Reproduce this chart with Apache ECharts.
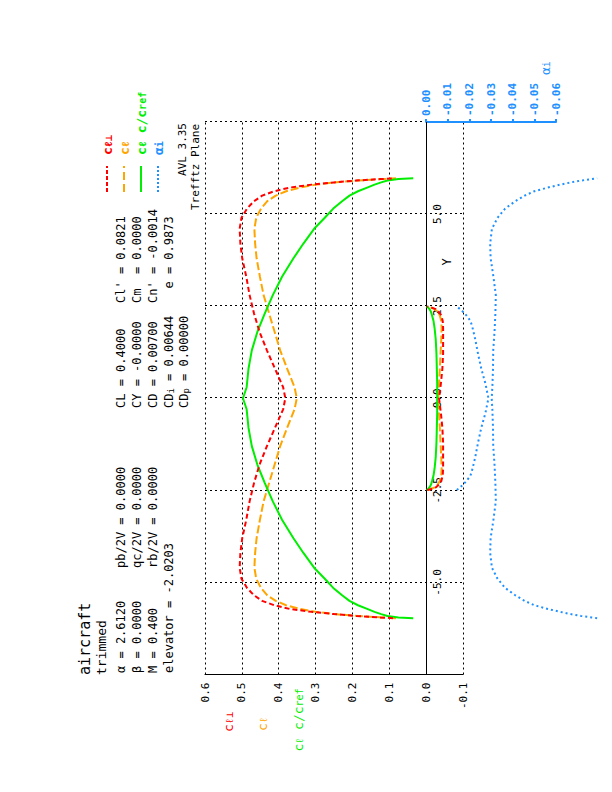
<!DOCTYPE html>
<html><head><meta charset="utf-8">
<script src="https://cdn.jsdelivr.net/npm/echarts@6/dist/echarts.min.js"></script>
<style>
html,body{margin:0;padding:0;width:612px;height:792px;overflow:hidden;background:#fff}
#wrap{position:absolute;left:-90px;top:90px;width:792px;height:612px;transform:rotate(-90deg);transform-origin:396px 306px;}
</style></head><body><div id="wrap"></div>
<script>
// ---- data ----
const wingY = [-5.97,-5.95,-5.91,-5.86,-5.8,-5.72,-5.62,-5.5,-5.35,-5.15,-4.9,-4.6,-4.2,-3.8,-3.3,-2.8,-2.3,-1.8,-1.3,-0.8,-0.3,0,0.3,0.8,1.3,1.8,2.3,2.8,3.3,3.8,4.2,4.6,4.9,5.15,5.35,5.5,5.62,5.72,5.8,5.86,5.91,5.95,5.97];
const wingClPerp = [0.09,0.125,0.19,0.25,0.31,0.37,0.412,0.445,0.467,0.486,0.501,0.506,0.504,0.499,0.488,0.479,0.467,0.452,0.432,0.410,0.388,0.382,0.388,0.410,0.432,0.452,0.467,0.479,0.488,0.499,0.504,0.506,0.501,0.486,0.467,0.445,0.412,0.37,0.31,0.25,0.19,0.125,0.09];
const wingCl = [0.082,0.12,0.185,0.25,0.298,0.342,0.38,0.408,0.431,0.448,0.461,0.466,0.464,0.460,0.451,0.441,0.426,0.411,0.396,0.377,0.357,0.351,0.357,0.377,0.396,0.411,0.426,0.441,0.451,0.460,0.464,0.466,0.461,0.448,0.431,0.408,0.38,0.342,0.298,0.25,0.185,0.12,0.082];
const wingClc = [0.035,0.075,0.105,0.122,0.14,0.16,0.185,0.208,0.228,0.252,0.275,0.304,0.333,0.36,0.391,0.416,0.438,0.458,0.473,0.482,0.487,0.497,0.487,0.482,0.473,0.458,0.438,0.416,0.391,0.36,0.333,0.304,0.275,0.252,0.228,0.208,0.185,0.16,0.14,0.122,0.105,0.075,0.035];
const wingAi = [-0.079,-0.0765,-0.0715,-0.0668,-0.062,-0.0562,-0.05,-0.0455,-0.0412,-0.0365,-0.033,-0.0304,-0.0296,-0.0298,-0.0311,-0.0322,-0.032,-0.0316,-0.031,-0.0309,-0.0306,-0.0303,-0.0306,-0.0309,-0.031,-0.0316,-0.032,-0.0322,-0.0311,-0.0298,-0.0296,-0.0304,-0.033,-0.0365,-0.0412,-0.0455,-0.05,-0.0562,-0.062,-0.0668,-0.0715,-0.0765,-0.079];

const tailY = [-2.49,-2.47,-2.42,-2.35,-2.25,-2.1,-1.9,-1.6,-1.2,-0.8,-0.4,0,0.4,0.8,1.2,1.6,1.9,2.1,2.25,2.35,2.42,2.47,2.49];
const tailClPerp = [-0.003,-0.012,-0.026,-0.034,-0.041,-0.045,-0.046,-0.046,-0.046,-0.044,-0.040,-0.035,-0.040,-0.044,-0.046,-0.046,-0.046,-0.045,-0.041,-0.034,-0.026,-0.012,-0.003];
const tailCl = [-0.003,-0.011,-0.023,-0.031,-0.037,-0.041,-0.042,-0.041,-0.039,-0.037,-0.035,-0.033,-0.035,-0.037,-0.039,-0.041,-0.042,-0.041,-0.037,-0.031,-0.023,-0.011,-0.003];
const tailClc = [-0.001,-0.005,-0.009,-0.013,-0.016,-0.020,-0.023,-0.026,-0.028,-0.029,-0.030,-0.030,-0.030,-0.029,-0.028,-0.026,-0.023,-0.020,-0.016,-0.013,-0.009,-0.005,-0.001];
const tailAi = [-0.0142,-0.0146,-0.0157,-0.017,-0.0186,-0.0205,-0.0215,-0.0227,-0.024,-0.0255,-0.0274,-0.0288,-0.0274,-0.0255,-0.024,-0.0227,-0.0215,-0.0205,-0.0186,-0.017,-0.0157,-0.0146,-0.0142];

const statsCol1 = ['α = 2.6120','β = 0.0000','M = 0.400','elevator = -2.0203'];
const statsCol2 = ['pb/2V = 0.0000','qc/2V = 0.0000','rb/2V = 0.0000'];
const statsCol3 = ['CL = 0.4000','CY = -0.0000','CD = 0.00700','CD{s|i} = 0.00644','CD{s|p} = 0.00000'];
const statsCol4 = ["Cl' = 0.0821",'Cm  = 0.0000',"Cn' = -0.0014",'  e = 0.9873'];

// ---- styling ----
const MONO = '"DejaVu Sans Mono","Liberation Mono",monospace';
const RED = '#ff0000', ORANGE = '#ffa500', GREEN = '#00ee00', BLUE = '#1e90ff';
const pts = (xs, ys) => xs.map((x, i) => [x, ys[i]]);
const grid = {lineStyle:{color:'#000', width:1, type:[2,3]}};

function txt(x, y, text, o) {
  const st = Object.assign({text:text, font:'12px '+MONO, fill:'#000', textAlign:'left', textVerticalAlign:'middle',
    rich:{s:{font:'9px '+MONO, verticalAlign:'bottom', lineHeight:8}, n:{font:'12px '+MONO}}}, o || {});
  return {type:'text', x:x, y:y, silent:true, style:st};
}
const rows = [121, 137, 153, 169, 184];
const g = [];
g.push(txt(117, 85, 'aircraft', {font:'15px '+MONO}));
g.push(txt(117, 101, 'trimmed', {font:'13px '+MONO}));
statsCol1.forEach((s, i) => g.push(txt(119, rows[i], s)));
statsCol2.forEach((s, i) => g.push(txt(224, rows[i], s)));
statsCol3.forEach((s, i) => g.push(txt(384, rows[i], s)));
statsCol4.forEach((s, i) => g.push(txt(489, rows[i], s)));
g.push(txt(669, 182, 'AVL 3.35', {textAlign:'right', font:'11px '+MONO}));
g.push(txt(668, 195, 'Trefftz Plane', {textAlign:'right', font:'11px '+MONO}));
// legend
const leg = [
  {y:107, c:RED, dash:[4,2], t:'{n|c}{s|ℓ⊥}'},
  {y:124, c:ORANGE, dash:[8,4], t:'{n|c}{s|ℓ}'},
  {y:141, c:GREEN, dash:null, t:'{n|c}{s|ℓ}{n| c/c}{s|ref}'},
  {y:158, c:BLUE, dash:[2,2], t:'{n|α}{s|i}'}
];
leg.forEach(l => {
  g.push({type:'line', silent:true, shape:{x1:600, y1:l.y, x2:626, y2:l.y}, style:{stroke:l.c, lineWidth:2, lineDash:l.dash}});
  g.push(txt(637, l.y, l.t, {fill:l.c, rich:{n:{font:'bold 13px '+MONO}, s:{font:'bold 10px '+MONO, verticalAlign:'bottom', lineHeight:8}}}));
});
// axis colour labels
const axRich = {n:{font:'13px '+MONO}, s:{font:'10px '+MONO, verticalAlign:'bottom', lineHeight:8}};
g.push(txt(70, 228, '{n|c}{s|ℓ⊥}', {fill:RED, textAlign:'center', rich:axRich}));
g.push(txt(68, 262, '{n|c}{s|ℓ}', {fill:ORANGE, textAlign:'center', rich:axRich}));
g.push(txt(72, 298, '{n|c}{s|ℓ}{n| c/c}{s|ref}', {fill:GREEN, textAlign:'center', rich:axRich}));
g.push(txt(530, 447, 'Y', {textAlign:'center'}));
g.push(txt(717, 545, '{n|α}{s|i}', {fill:BLUE, rich:axRich}));

const chart = echarts.init(document.getElementById('wrap'), null, {renderer:'svg', width:792, height:612});
const lineS = (name, xs, ys, color, type, axis) => ({
  name:name, type:'line', data:pts(xs, ys), xAxisIndex:axis, yAxisIndex:axis, showSymbol:false, symbol:'none',
  clip:false, silent:true, smooth:false, lineStyle:{color:color, width:2, type:type}
});
chart.setOption({
  animation:false,
  backgroundColor:'#fff',
  grid:[
    {left:117.5, right:122, top:205, bottom:149},
    {left:117.5, right:122, top:426.1, bottom:56}
  ],
  xAxis:[
    {type:'value', gridIndex:0, min:-7.5, max:7.5, interval:2.5,
     axisLine:{show:true, onZero:true, lineStyle:{color:'#000', width:1}}, axisTick:{show:false},
     axisLabel:{color:'#000', fontFamily:MONO, fontSize:11, margin:-31, showMinLabel:false, showMaxLabel:false,
       formatter:v => v.toFixed(1)},
     splitLine:Object.assign({show:true}, grid)},
    {type:'value', gridIndex:1, min:-7.5, max:7.5, show:false}
  ],
  yAxis:[
    {type:'value', gridIndex:0, min:-0.1, max:0.6, interval:0.1,
     axisLine:{show:true, onZero:false, lineStyle:{color:'#000', width:1}}, axisTick:{show:false},
     axisLabel:{color:'#000', fontFamily:MONO, fontSize:11, margin:8, formatter:v => v.toFixed(1)},
     splitLine:Object.assign({show:true}, grid)},
    {type:'value', gridIndex:1, min:-0.06, max:0, interval:0.01, position:'right',
     axisLine:{show:true, onZero:false, lineStyle:{color:BLUE, width:2}},
     axisTick:{show:true, inside:false, length:3, lineStyle:{color:BLUE, width:2}},
     axisLabel:{color:BLUE, fontFamily:MONO, fontSize:11, fontWeight:'bold', margin:6, formatter:v => v.toFixed(2)},
     splitLine:{show:false}}
  ],
  graphic:g,
  series:[
    lineS('cl', wingY, wingCl, ORANGE, [8,3], 0),
    lineS('cl', tailY, tailCl, ORANGE, [8,3], 0),
    lineS('clc', wingY, wingClc, GREEN, 'solid', 0),
    lineS('clc', tailY, tailClc, GREEN, 'solid', 0),
    lineS('clp', wingY, wingClPerp, RED, [5,3], 0),
    lineS('clp', tailY, tailClPerp, RED, [5,3], 0),
    lineS('ai', wingY, wingAi, BLUE, [2,3], 1),
    lineS('ai', tailY, tailAi, BLUE, [2,3], 1)
  ]
});
</script></body></html>
